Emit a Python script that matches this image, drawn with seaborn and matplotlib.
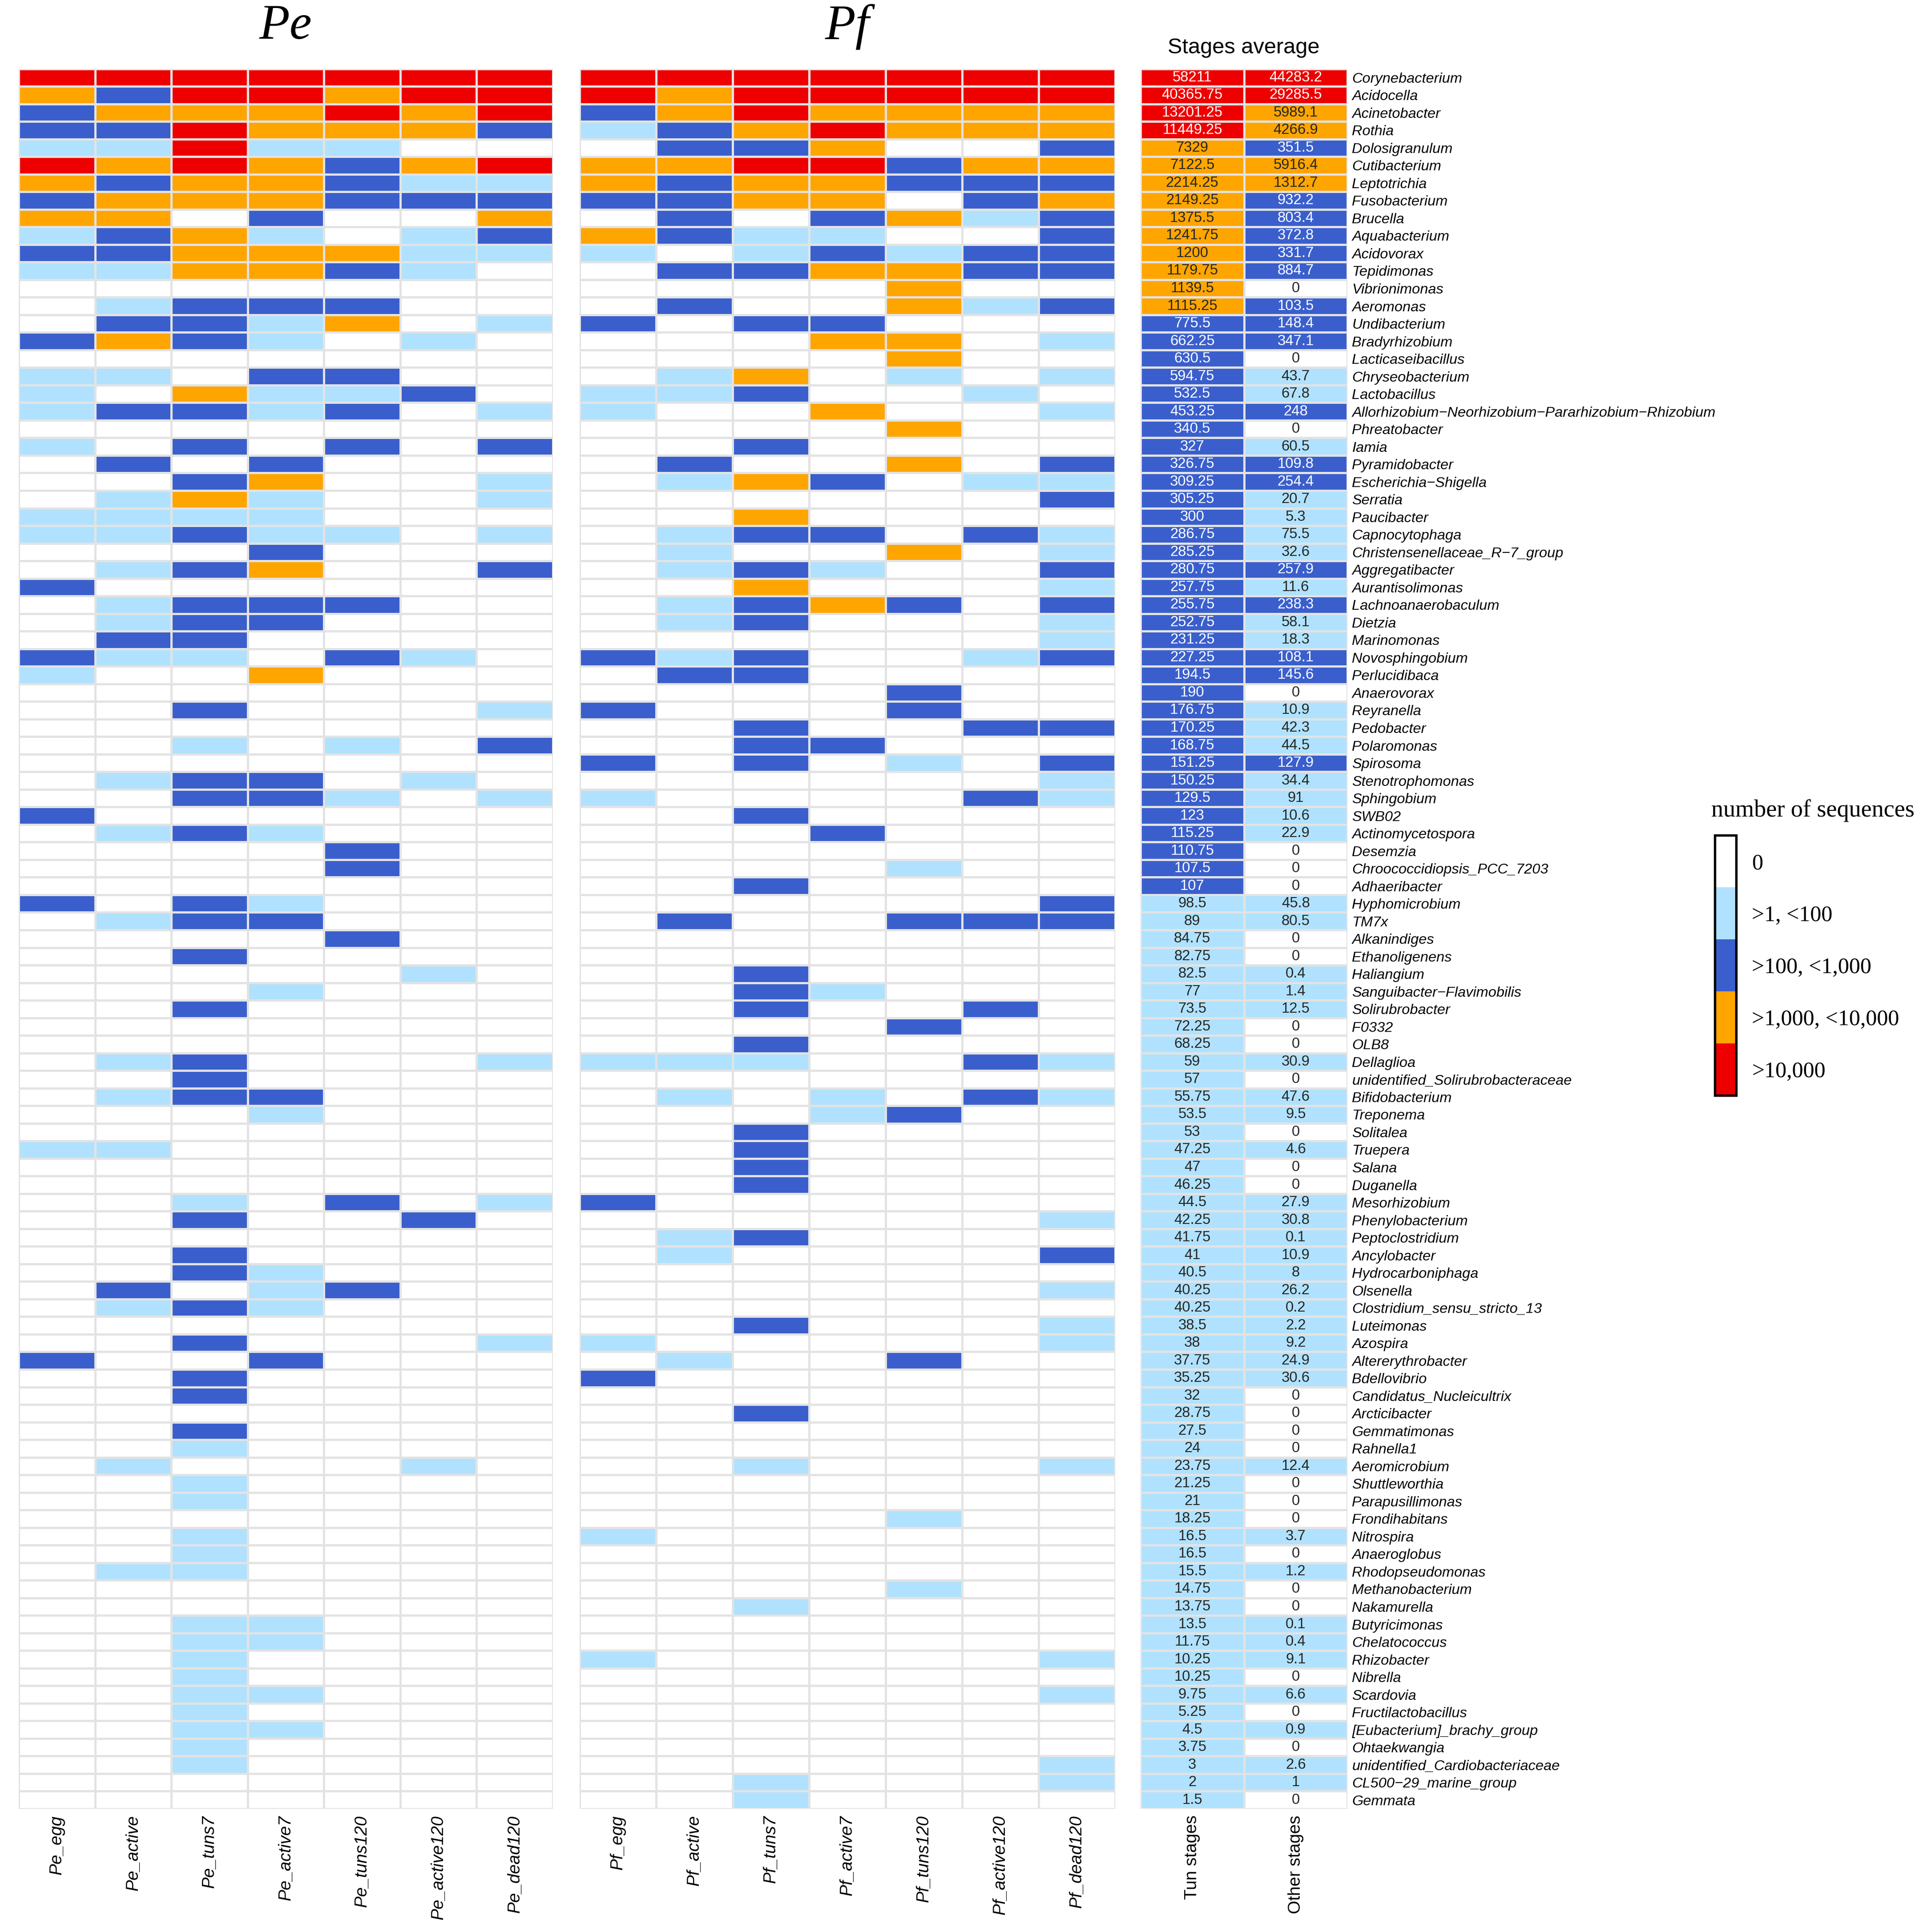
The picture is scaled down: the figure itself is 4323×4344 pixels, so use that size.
import numpy as np
import pandas as pd
import matplotlib
matplotlib.use("Agg")
import matplotlib.pyplot as plt
from matplotlib.colors import ListedColormap, BoundaryNorm
import matplotlib.cm as cm
import seaborn as sns

# ---------------- data ----------------
genera = [
    "Corynebacterium", "Acidocella", "Acinetobacter", "Rothia", "Dolosigranulum",
    "Cutibacterium", "Leptotrichia", "Fusobacterium", "Brucella", "Aquabacterium",
    "Acidovorax", "Tepidimonas", "Vibrionimonas", "Aeromonas", "Undibacterium",
    "Bradyrhizobium", "Lacticaseibacillus", "Chryseobacterium", "Lactobacillus",
    "Allorhizobium\u2212Neorhizobium\u2212Pararhizobium\u2212Rhizobium",
    "Phreatobacter", "Iamia", "Pyramidobacter", "Escherichia\u2212Shigella", "Serratia",
    "Paucibacter", "Capnocytophaga", "Christensenellaceae_R\u22127_group", "Aggregatibacter",
    "Aurantisolimonas", "Lachnoanaerobaculum", "Dietzia", "Marinomonas", "Novosphingobium",
    "Perlucidibaca", "Anaerovorax", "Reyranella", "Pedobacter", "Polaromonas", "Spirosoma",
    "Stenotrophomonas", "Sphingobium", "SWB02", "Actinomycetospora", "Desemzia",
    "Chroococcidiopsis_PCC_7203", "Adhaeribacter", "Hyphomicrobium", "TM7x", "Alkanindiges",
    "Ethanoligenens", "Haliangium", "Sanguibacter\u2212Flavimobilis", "Solirubrobacter", "F0332",
    "OLB8", "Dellaglioa", "unidentified_Solirubrobacteraceae", "Bifidobacterium", "Treponema",
    "Solitalea", "Truepera", "Salana", "Duganella", "Mesorhizobium", "Phenylobacterium",
    "Peptoclostridium", "Ancylobacter", "Hydrocarboniphaga", "Olsenella",
    "Clostridium_sensu_stricto_13", "Luteimonas", "Azospira", "Altererythrobacter",
    "Bdellovibrio", "Candidatus_Nucleicultrix", "Arcticibacter", "Gemmatimonas", "Rahnella1",
    "Aeromicrobium", "Shuttleworthia", "Parapusillimonas", "Frondihabitans", "Nitrospira",
    "Anaeroglobus", "Rhodopseudomonas", "Methanobacterium", "Nakamurella", "Butyricimonas",
    "Chelatococcus", "Rhizobacter", "Nibrella", "Scardovia", "Fructilactobacillus",
    "[Eubacterium]_brachy_group", "Ohtaekwangia", "unidentified_Cardiobacteriaceae",
    "CL500\u221229_marine_group", "Gemmata",
]

pe_columns = ["Pe_egg", "Pe_active", "Pe_tuns7", "Pe_active7", "Pe_tuns120", "Pe_active120", "Pe_dead120"]
pf_columns = ["Pf_egg", "Pf_active", "Pf_tuns7", "Pf_active7", "Pf_tuns120", "Pf_active120", "Pf_dead120"]
avg_columns = ["Tun stages", "Other stages"]

# abundance class per cell (0: 0, 1: >1,<100, 2: >100,<1,000, 3: >1,000,<10,000, 4: >10,000)
pe_levels = [
    "4444444", "3244344", "2333434", "2243332", "1141100", "4343234", "3233211", "2333222",
    "3302003", "1231012", "2233311", "1133210", "0000000", "0122200", "0221301", "2321010",
    "0000000", "1102200", "1031120", "1221201", "0000000", "1020202", "0202000", "0023001",
    "0131001", "1111000", "1121101", "0002000", "0123002", "2000000", "0122200", "0122000",
    "0220000", "2110210", "1003000", "0000000", "0020001", "0000000", "0010102", "0000000",
    "0122010", "0022101", "2000000", "0121000", "0000200", "0000200", "0000000", "2021000",
    "0122000", "0000200", "0020000", "0000010", "0001000", "0020000", "0000000", "0000000",
    "0120001", "0020000", "0122000", "0001000", "0000000", "1100000", "0000000", "0000000",
    "0010201", "0020020", "0000000", "0020000", "0021000", "0201200", "0121000", "0000000",
    "0020001", "2002000", "0020000", "0020000", "0000000", "0020000", "0010000", "0100010",
    "0010000", "0010000", "0000000", "0010000", "0010000", "0110000", "0000000", "0000000",
    "0011000", "0011000", "0010000", "0010000", "0011000", "0010000", "0011000", "0010000",
    "0010000", "0000000", "0000000",
]
pf_levels = [
    "4444444", "4344444", "2343333", "1234333", "0223002", "3344233", "3233222", "2233023",
    "0202312", "3211002", "1012122", "0223322", "0000300", "0200312", "2022000", "0003301",
    "0000300", "0130101", "1120010", "1003001", "0000300", "0020000", "0200302", "0132011",
    "0000002", "0030000", "0122021", "0100301", "0121002", "0030001", "0123202", "0120001",
    "0000001", "2120012", "0220000", "0000200", "2000200", "0020022", "0022000", "2020102",
    "0000001", "1000021", "0020000", "0002000", "0000000", "0000100", "0020000", "0000002",
    "0200222", "0000000", "0000000", "0020000", "0021000", "0020020", "0000200", "0020000",
    "1110021", "0000000", "0101021", "0001200", "0020000", "0020000", "0020000", "0020000",
    "2000000", "0000001", "0120000", "0100002", "0000000", "0000001", "0000000", "0020001",
    "1000001", "0100200", "2000000", "0000000", "0020000", "0000000", "0000000", "0010001",
    "0000000", "0000000", "0000100", "1000000", "0000000", "0000000", "0000100", "0010000",
    "0000000", "0000000", "1000001", "0000000", "0000001", "0000000", "0000000", "0000000",
    "0000001", "0010001", "0010000",
]

tun_avg = [
    58211, 40365.75, 13201.25, 11449.25, 7329, 7122.5, 2214.25, 2149.25, 1375.5, 1241.75,
    1200, 1179.75, 1139.5, 1115.25, 775.5, 662.25, 630.5, 594.75, 532.5, 453.25,
    340.5, 327, 326.75, 309.25, 305.25, 300, 286.75, 285.25, 280.75, 257.75,
    255.75, 252.75, 231.25, 227.25, 194.5, 190, 176.75, 170.25, 168.75, 151.25,
    150.25, 129.5, 123, 115.25, 110.75, 107.5, 107, 98.5, 89, 84.75,
    82.75, 82.5, 77, 73.5, 72.25, 68.25, 59, 57, 55.75, 53.5,
    53, 47.25, 47, 46.25, 44.5, 42.25, 41.75, 41, 40.5, 40.25,
    40.25, 38.5, 38, 37.75, 35.25, 32, 28.75, 27.5, 24, 23.75,
    21.25, 21, 18.25, 16.5, 16.5, 15.5, 14.75, 13.75, 13.5, 11.75,
    10.25, 10.25, 9.75, 5.25, 4.5, 3.75, 3, 2, 1.5,
]
other_avg = [
    44283.2, 29285.5, 5989.1, 4266.9, 351.5, 5916.4, 1312.7, 932.2, 803.4, 372.8,
    331.7, 884.7, 0, 103.5, 148.4, 347.1, 0, 43.7, 67.8, 248,
    0, 60.5, 109.8, 254.4, 20.7, 5.3, 75.5, 32.6, 257.9, 11.6,
    238.3, 58.1, 18.3, 108.1, 145.6, 0, 10.9, 42.3, 44.5, 127.9,
    34.4, 91, 10.6, 22.9, 0, 0, 0, 45.8, 80.5, 0,
    0, 0.4, 1.4, 12.5, 0, 0, 30.9, 0, 47.6, 9.5,
    0, 4.6, 0, 0, 27.9, 30.8, 0.1, 10.9, 8, 26.2,
    0.2, 2.2, 9.2, 24.9, 30.6, 0, 0, 0, 0, 12.4,
    0, 0, 0, 3.7, 0, 1.2, 0, 0, 0.1, 0.4,
    9.1, 0, 6.6, 0, 0.9, 0, 2.6, 1, 0,
]

legend_labels = ["0", ">1, <100", ">100, <1,000", ">1,000, <10,000", ">10,000"]
level_colors = ["#FFFFFF", "#B0E2FF", "#3A5FCD", "#FFA500", "#EE0000"]
class_edges = [100, 1000, 10000]

# ---------------- build tables ----------------
pe_df = pd.DataFrame([[int(c) for c in s] for s in pe_levels], index=genera, columns=pe_columns)
pf_df = pd.DataFrame([[int(c) for c in s] for s in pf_levels], index=genera, columns=pf_columns)
avg_vals = pd.DataFrame({"Tun stages": tun_avg, "Other stages": other_avg}, index=genera)


def to_level(v):
    if v == 0:
        return 0
    return 1 + int(np.searchsorted(class_edges, v, side="right"))


def fmt_num(v):
    return ("%.2f" % v).rstrip("0").rstrip(".")


avg_df = avg_vals.apply(lambda col: col.map(to_level))
avg_annot = avg_vals.apply(lambda col: col.map(fmt_num))

# ---------------- figure ----------------
SANS = ["Liberation Sans", "DejaVu Sans"]
SERIF = ["Liberation Serif", "DejaVu Serif"]
plt.rcParams["font.family"] = SANS

cmap = ListedColormap(level_colors)
W, H = 4323, 4344
fig = plt.figure(figsize=(W / 300, H / 300), dpi=300)


def frac_box(x0, y0, x1, y1):
    return [x0 / W, 1 - y1 / H, (x1 - x0) / W, (y1 - y0) / H]


top, bottom = 154.5, 4067
ax_pe = fig.add_axes(frac_box(42, top, 1243, bottom))
ax_pf = fig.add_axes(frac_box(1303, top, 2507, bottom))
ax_av = fig.add_axes(frac_box(2564, top, 3029, bottom))

grid_kw = dict(cmap=cmap, vmin=-0.5, vmax=4.5, cbar=False, linewidths=0.75, linecolor="#E3E3E3")

sns.heatmap(pe_df, ax=ax_pe, yticklabels=False, **grid_kw)
sns.heatmap(pf_df, ax=ax_pf, yticklabels=False, **grid_kw)
sns.heatmap(avg_df, ax=ax_av, annot=avg_annot.values, fmt="",
            annot_kws={"size": 7.9, "family": SANS}, yticklabels=genera, **grid_kw)

for ax, cols in ((ax_pe, pe_columns), (ax_pf, pf_columns)):
    ax.set_xticklabels(cols, rotation=90, fontsize=9.3, style="italic", family=SANS)
    ax.tick_params(axis="x", length=0, pad=3.4)
    ax.set_xlabel("")
    ax.set_ylabel("")

ax_av.set_xticklabels(avg_columns, rotation=90, fontsize=9.3, family=SANS)
ax_av.tick_params(axis="x", length=0, pad=3.4)
ax_av.yaxis.tick_right()
ax_av.set_yticklabels(genera, rotation=0, fontsize=7.8, style="italic", family=SANS)
ax_av.tick_params(axis="y", length=0, pad=2.5)
ax_av.set_xlabel("")
ax_av.set_ylabel("")

# titles
fig.text(642 / W, 1 - 60 / H, "Pe", ha="center", va="center", fontsize=27,
         style="italic", family=SERIF)
fig.text(1905 / W, 1 - 60 / H, "Pf", ha="center", va="center", fontsize=27,
         style="italic", family=SERIF)
fig.text(2796 / W, 1 - 107 / H, "Stages average", ha="center", va="center",
         fontsize=11.7, family=SANS)

# legend
cax = fig.add_axes(frac_box(3855, 1878, 3903, 2463))
norm = BoundaryNorm(np.arange(-0.5, 5.5, 1), cmap.N)
sm = cm.ScalarMappable(norm=norm, cmap=cmap)
cb = fig.colorbar(sm, cax=cax, ticks=range(5), drawedges=True)
cb.ax.invert_yaxis()
cb.set_ticklabels(legend_labels)
cb.ax.minorticks_off()
cb.outline.set_linewidth(1.3)
cb.outline.set_edgecolor("black")
cb.dividers.set_color("black")
cb.dividers.set_linewidth(0.8)
cb.ax.tick_params(which="both", length=0, pad=8.5)
for t in cb.ax.get_yticklabels():
    t.set_family(SERIF)
    t.set_fontsize(12)
fig.text(4075 / W, 1 - 1822 / H, "number of sequences", ha="center", va="center",
         fontsize=13, family=SERIF)

fig.savefig("out.png", dpi=300)
